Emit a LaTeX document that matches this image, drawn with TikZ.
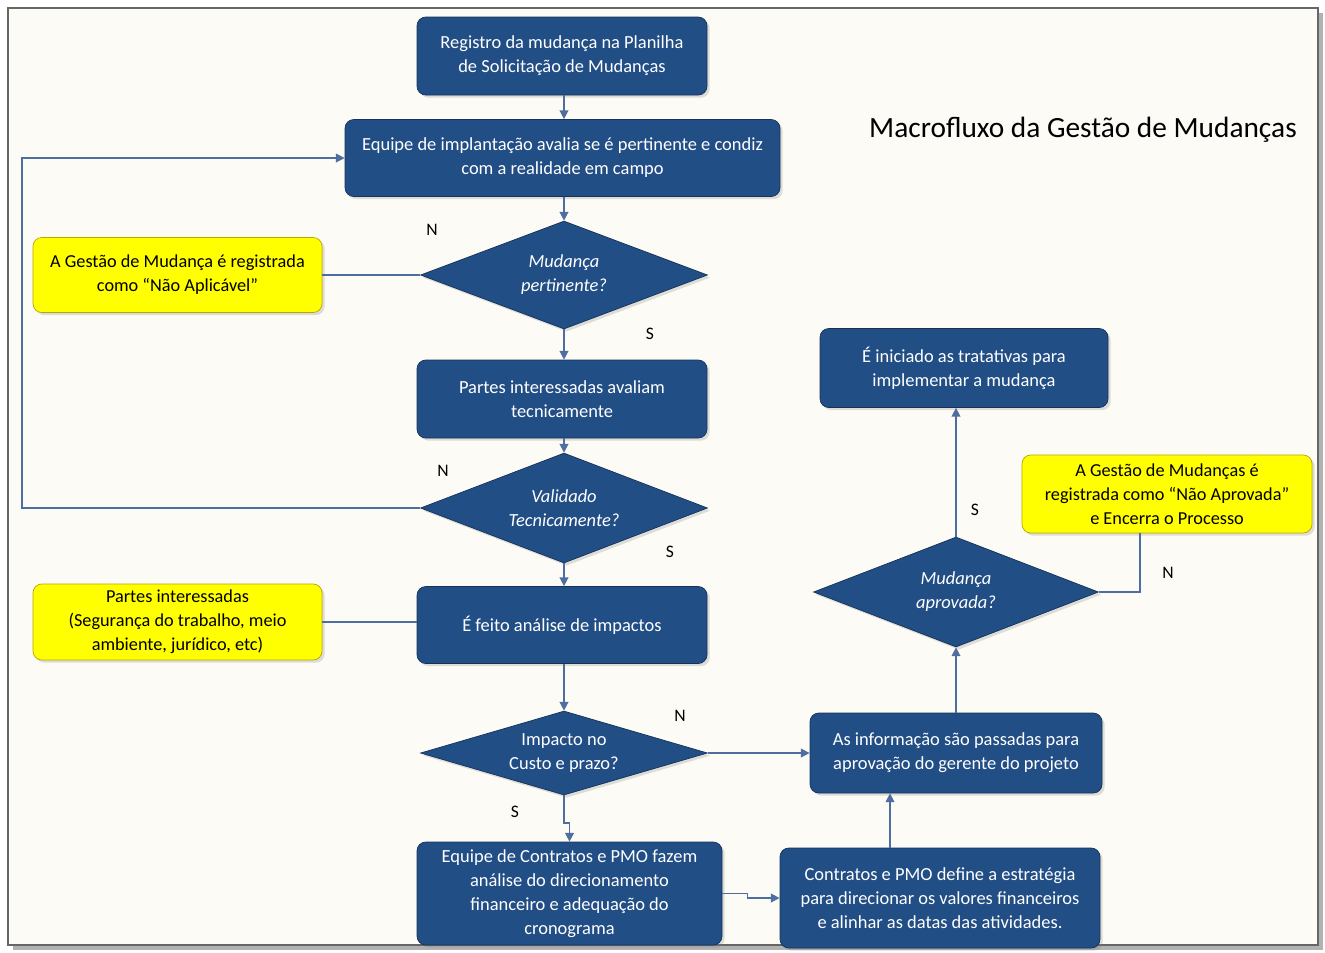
\documentclass[tikz,border=0pt]{standalone}
\usepackage{fontspec}
\setmainfont{Carlito}
\usepackage{tikz}
\usetikzlibrary{arrows.meta,shapes.geometric,shadows}
\usepackage{xcolor}

\definecolor{boxblue}{RGB}{34,78,134}
\definecolor{boxedge}{RGB}{20,50,90}
\definecolor{noteyellow}{RGB}{255,255,0}
\definecolor{noteedge}{RGB}{185,165,0}
\definecolor{linkblue}{RGB}{79,110,160}
\definecolor{paper}{RGB}{253,251,245}

\tikzset{
  stepbox/.style={rectangle, rounded corners=5pt, fill=boxblue, draw=boxedge,
    text=white, align=center, font=\fontsize{10.5}{13.6}\selectfont,
    drop shadow={opacity=0.25, shadow xshift=1.5pt, shadow yshift=-1.5pt}},
  ask/.style={diamond, aspect=2.6, fill=boxblue, draw=boxedge, text=white, align=center,
    inner sep=0pt, font=\fontsize{10.5}{13.6}\selectfont,
    drop shadow={opacity=0.25, shadow xshift=1.5pt, shadow yshift=-1.5pt}},
  note/.style={rectangle, rounded corners=5pt, fill=noteyellow, draw=noteedge,
    text=black, align=center, font=\fontsize{10.4}{13.6}\selectfont,
    drop shadow={opacity=0.25, shadow xshift=1.5pt, shadow yshift=-1.5pt}},
  arr/.style={draw=linkblue, line width=0.8pt, -{Triangle[length=5pt,width=5pt]}},
  link/.style={draw=linkblue, line width=0.8pt},
  yn/.style={font=\fontsize{10}{12}\selectfont}
}

\begin{document}
\begin{tikzpicture}
  % Page and frame
  \useasboundingbox (0,0) rectangle (26.5,-19.04);
  \fill[white] (0,0) rectangle (26.5,-19.04);
  \fill[gray!60] (0.26,-0.26) rectangle (26.46,-19.0);
  \filldraw[fill=paper, draw=gray!80!black, line width=0.6pt] (0.16,-0.16) rectangle (26.36,-18.9);

  % Title
  \node (title) at (21.66,-2.6) {\fontsize{16.7}{19}\selectfont Macrofluxo da Gestão de Mudanças};

  % Left column
  \node[stepbox, minimum width=5.8cm, minimum height=1.56cm] (reg) at (11.24,-1.12)
    {Registro da mudança na Planilha\\de Solicitação de Mudanças};
  \node[stepbox, minimum width=8.7cm, minimum height=1.54cm] (avalia) at (11.25,-3.16)
    {Equipe de implantação avalia se é pertinente e condiz\\com a realidade em campo};
  \node[ask, minimum width=5.74cm, minimum height=2.16cm] (pertinente) at (11.28,-5.5)
    {\itshape Mudança\\\itshape pertinente?};
  \node[note, minimum width=5.78cm, minimum height=1.5cm] (naoaplic) at (3.55,-5.5)
    {A Gestão de Mudança é registrada\\como “Não Aplicável”};
  \node[stepbox, minimum width=5.8cm, minimum height=1.56cm] (tecnica) at (11.24,-7.98)
    {Partes interessadas avaliam\\tecnicamente};
  \node[ask, minimum width=5.74cm, minimum height=2.2cm] (validado) at (11.28,-10.16)
    {\itshape Validado\\\itshape Tecnicamente?};
  \node[stepbox, minimum width=5.8cm, minimum height=1.54cm] (impactos) at (11.24,-12.5)
    {É feito análise de impactos};
  \node[note, minimum width=5.78cm, minimum height=1.52cm] (partes) at (3.55,-12.44)
    {Partes interessadas\\(Segurança do trabalho, meio\\ambiente, jurídico, etc)};
  \node[ask, minimum width=5.74cm, minimum height=1.68cm] (custo) at (11.28,-15.06)
    {Impacto no\\Custo e prazo?};
  \node[stepbox, minimum width=6.1cm, minimum height=2.06cm] (contratos) at (11.39,-17.87)
    {Equipe de Contratos e PMO fazem\\análise do direcionamento\\financeiro e adequação do\\cronograma};

  % Right column
  \node[stepbox, minimum width=6.4cm, minimum height=2.0cm] (estrategia) at (18.8,-17.96)
    {Contratos e PMO define a estratégia\\para direcionar os valores financeiros\\e alinhar as datas das atividades.};
  \node[stepbox, minimum width=5.84cm, minimum height=1.6cm] (gerente) at (19.12,-15.06)
    {As informação são passadas para\\aprovação do gerente do projeto};
  \node[ask, minimum width=5.7cm, minimum height=2.2cm] (aprovada) at (19.12,-11.84)
    {\itshape Mudança\\\itshape aprovada?};
  \node[stepbox, minimum width=5.76cm, minimum height=1.58cm] (tratativas) at (19.28,-7.36)
    {É iniciado as tratativas para\\implementar a mudança};
  \node[note, minimum width=5.8cm, minimum height=1.56cm] (naoaprov) at (23.34,-9.88)
    {A Gestão de Mudanças é\\registrada como “Não Aprovada”\\e Encerra o Processo};

  % Connectors
  \draw[arr] (reg.south -| pertinente) -- (avalia.north -| pertinente);
  \draw[arr] (avalia.south -| pertinente) -- (pertinente.north);
  \draw[link] (pertinente.west) -- (naoaplic.east);
  \draw[arr] (pertinente.south) -- (tecnica.north -| pertinente);
  \draw[arr] (tecnica.south -| validado) -- (validado.north);
  \draw[arr] (validado.west) -- (0.44,-10.16) |- (avalia.west);
  \draw[arr] (validado.south) -- (impactos.north -| validado);
  \draw[link] (partes.east) -- (impactos.west |- partes.east);
  \draw[arr] (impactos.south -| custo) -- (custo.north);
  \draw[arr] (custo.east) -- (gerente.west);
  \draw[arr] (custo.south) -- ++(0,-0.55) -| (contratos.north);
  \draw[arr] (contratos.east) -- ++(0.5,0) |- (estrategia.west);
  \draw[arr] ([xshift=-1cm]estrategia.north) -- ([xshift=-1cm]estrategia.north |- gerente.south);
  \draw[arr] (gerente.north) -- (aprovada.south);
  \draw[arr] (aprovada.north) -- (aprovada.north |- tratativas.south);
  \draw[link] (aprovada.east) -| ([xshift=-0.54cm]naoaprov.south);

  % Answer labels
  \node[yn] (n1) at (8.64,-4.6) {N};
  \node[yn] (s1) at (13.0,-6.68) {S};
  \node[yn] (n2) at (8.86,-9.42) {N};
  \node[yn] (s2) at (13.4,-11.04) {S};
  \node[yn] (n3) at (13.6,-14.32) {N};
  \node[yn] (s3) at (10.3,-16.24) {S};
  \node[yn] (s4) at (19.5,-10.2) {S};
  \node[yn] (n4) at (23.36,-11.46) {N};
\end{tikzpicture}
\end{document}
